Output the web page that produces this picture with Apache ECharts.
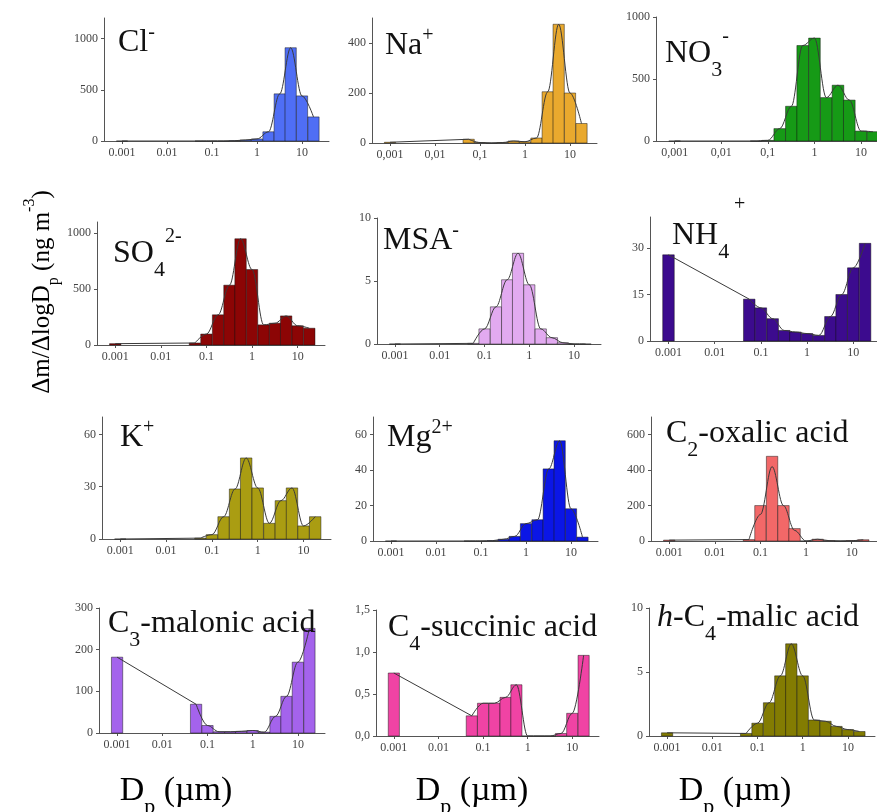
<!DOCTYPE html>
<html>
<head>
<meta charset="utf-8">
<script src="https://cdn.jsdelivr.net/npm/echarts@6/dist/echarts.min.js"></script>
<style>
  html, body { margin: 0; padding: 0; background: #fff; }
  #chart { width: 877px; height: 812px; }
</style>
</head>
<body>
<div id="chart"></div>
<script>
// stage diameters in um (first one = after-filter, drawn at 0.001)
var stageDp = [0.001, 0.056, 0.1, 0.18, 0.32, 0.56, 1.0, 1.8, 3.2, 5.6, 10, 18];
var binHalfWidth = 0.125; // half bar width, in decades

// dM/dlogDp per stage
var clValues  = [0, 0, 0, 0, 3, 10, 20, 90, 460, 910, 440, 235];
var naValues  = [3, 15, 2, 0, 2, 8, 5, 20, 205, 475, 200, 78];
var no3Values = [0, 0, 5, 100, 280, 770, 830, 350, 450, 330, 80, 75];
var so4Values = [12, 18, 98, 270, 535, 950, 675, 180, 195, 260, 172, 150];
var msaValues = [0, 0.05, 1.2, 2.95, 5.1, 7.2, 4.7, 1.2, 0.5, 0.1, 0, 0];
var nh4Values = [27.8, 13.5, 10.7, 7.2, 3.4, 2.9, 2.4, 1.8, 7.9, 15, 23.6, 31.5];
var kValues   = [0, 0.5, 2.5, 12.8, 28.7, 46.5, 29.3, 9, 22, 29.3, 7.5, 12.8];
var mgValues  = [0, 0, 0, 0.2, 1, 2.6, 9.8, 12, 40.7, 56.6, 18.2, 2.2];
var c2Values  = [5, 8, 200, 478, 200, 70, 0, 10, 2, 0, 2, 7];
var c2Fit     = [5, 8, 150, 420, 200, 60, 0, 10, 2, 0, 2, 7];
var c3Values  = [182, 69, 18, 3, 3, 4, 6, 2, 40, 88, 170, 251];
var c4Values  = [0.75, 0.24, 0.39, 0.39, 0.46, 0.61, 0, 0, 0, 0.03, 0.27, 0.96];
var hc4Values = [0.25, 0.2, 1.0, 2.6, 4.7, 7.2, 4.7, 1.25, 1.15, 0.75, 0.5, 0.35];

// tick values
var xTickDp = [0.001, 0.01, 0.1, 1, 10];
var xTickLabels = ['0.001', '0.01', '0.1', '1', '10'];
var ticks1000 = [0, 500, 1000];
var ticks400 = [0, 200, 400];
var ticks10 = [0, 5, 10];
var ticks30 = [0, 15, 30];
var ticks60 = [0, 30, 60];
var ticks60b = [0, 20, 40, 60];
var ticks600 = [0, 200, 400, 600];
var ticks300 = [0, 100, 200, 300];
var ticks15 = [0, 0.5, 1, 1.5];

var serif = '"Liberation Serif", "Times New Roman", serif';

var panels = [
    {title: '{b|Cl}{sup|-}', values: clValues, color: '#4f6ef5', yMax: 1200, yTicks: ticks1000,
        left: 104, top: 18, width: 225, height: 123, tx: 118, ty: 23},
    {title: '{b|Na}{sup|+}', values: naValues, color: '#e9a92e', yMax: 500, yTicks: ticks400, comma: true,
        left: 372, top: 18, width: 225, height: 125, tx: 385, ty: 26},
    {title: '{b|NO}{sub|3}{sup|-}', values: no3Values, color: '#169a16', yMax: 1000, yTicks: ticks1000, comma: true,
        left: 656, top: 17, width: 233, height: 124, tx: 665, ty: 27},
    {title: '{b|SO}{sub|4}{sup|2-}', values: so4Values, color: '#8c0505', yMax: 1100, yTicks: ticks1000,
        left: 97, top: 222, width: 228, height: 123, tx: 113, ty: 227},
    {title: '{b|MSA}{sup|-}', values: msaValues, color: '#e2aaf0', yMax: 10, yTicks: ticks10,
        left: 377, top: 218, width: 224, height: 126, tx: 383, ty: 221},
    {title: '{b|NH}{sub|4}', values: nh4Values, color: '#3c0b8e', yMax: 40, yTicks: ticks30,
        left: 650, top: 217, width: 231, height: 124, tx: 672, ty: 209, extraSup: {text: '+', x: 734, y: 195}},
    {title: '{b|K}{sup|+}', values: kValues, color: '#aa9d12', yMax: 70, yTicks: ticks60,
        left: 102, top: 417, width: 229, height: 122, tx: 120, ty: 418},
    {title: '{b|Mg}{sup|2+}', values: mgValues, color: '#0b16e6', yMax: 70, yTicks: ticks60b,
        left: 373, top: 417, width: 225, height: 124, tx: 387, ty: 418},
    {title: '{b|C}{sub|2}{b|-oxalic acid}', values: c2Values, fit: c2Fit, color: '#f26868', yMax: 700, yTicks: ticks600,
        left: 651, top: 417, width: 228, height: 124, tx: 666, ty: 407},
    {title: '{b|C}{sub|3}{b|-malonic acid}', values: c3Values, color: '#a463ec', yMax: 300, yTicks: ticks300,
        left: 99, top: 608, width: 226, height: 125, tx: 108, ty: 597},
    {title: '{b|C}{sub|4}{b|-succinic acid}', values: c4Values, color: '#f043a4', yMax: 1.5, yTicks: ticks15, yComma: true,
        left: 376, top: 610, width: 223, height: 126, tx: 388, ty: 601},
    {title: '{i|h}{b|-C}{sub|4}{b|-malic acid}', values: hc4Values, color: '#837c02', yMax: 10, yTicks: ticks10,
        left: 649, top: 608, width: 226, height: 128, tx: 657, ty: 591}
];

var titleRich = {
    b: {fontSize: 32, fontFamily: serif, fontWeight: 'normal', color: '#111', lineHeight: 40},
    i: {fontSize: 32, fontFamily: serif, fontWeight: 'normal', color: '#111', lineHeight: 40, fontStyle: 'italic'},
    sup: {fontSize: 20, fontFamily: serif, fontWeight: 'normal', color: '#111', verticalAlign: 'top'},
    sub: {fontSize: 22, fontFamily: serif, fontWeight: 'normal', color: '#111', verticalAlign: 'bottom', lineHeight: 54}
};

var xTicksLog = xTickDp.map(function(d) { return Math.log10(d); });

function barRender(color) {
    return function(params, api) {
        var p0 = api.coord([api.value(0), 0]);
        var p1 = api.coord([api.value(1), api.value(2)]);
        return {
            type: 'rect',
            shape: {x: p0[0], y: p1[1], width: p1[0] - p0[0], height: p0[1] - p1[1]},
            style: {fill: color, stroke: 'rgba(20,20,20,0.6)', lineWidth: 0.8}
        };
    };
}

var option = {
    animation: false,
    backgroundColor: '#fff',
    grid: [], xAxis: [], yAxis: [], series: [], title: [], graphic: []
};

var axisColor = '#555';

panels.forEach(function(p, i) {
    option.grid.push({
        left: p.left, top: p.top, width: p.width, height: p.height,
        containLabel: false, outerBoundsMode: 'none'
    });
    option.xAxis.push({
        type: 'value', gridIndex: i, min: -3.4, max: 1.6,
        axisLine: {onZero: true, lineStyle: {color: axisColor, width: 1}},
        axisTick: {show: true, length: 3, customValues: xTicksLog, lineStyle: {color: axisColor}},
        axisLabel: {
            customValues: xTicksLog, margin: 6, fontSize: 12, fontFamily: serif, color: '#444',
            formatter: function(v) {
                var s = xTickLabels[Math.round(v) + 3];
                return p.comma ? s.replace('.', ',') : s;
            }
        },
        splitLine: {show: false}
    });
    option.yAxis.push({
        type: 'value', gridIndex: i, min: 0, max: p.yMax,
        axisLine: {show: true, onZero: false, lineStyle: {color: axisColor, width: 1}},
        axisTick: {show: true, length: 3, customValues: p.yTicks, lineStyle: {color: axisColor}},
        axisLabel: {
            customValues: p.yTicks, margin: 6, fontSize: 12, fontFamily: serif, color: '#444',
            formatter: function(v) {
                if (p.yComma) return v.toFixed(1).replace('.', ',');
                return String(v);
            }
        },
        splitLine: {show: false}
    });

    var bars = p.values.map(function(v, k) {
        var c = Math.log10(stageDp[k]);
        return [c - binHalfWidth, c + binHalfWidth, v];
    });
    option.series.push({
        type: 'custom', xAxisIndex: i, yAxisIndex: i, z: 2,
        renderItem: barRender(p.color), data: bars
    });

    var fit = (p.fit || p.values).map(function(v, k) {
        return [Math.log10(stageDp[k]), v];
    });
    // straight link from the after-filter to the first stage, smooth curve afterwards
    option.series.push({
        type: 'line', xAxisIndex: i, yAxisIndex: i, z: 3, symbol: 'none',
        lineStyle: {color: '#3a3a3a', width: 1}, data: fit.slice(0, 2)
    });
    option.series.push({
        type: 'line', xAxisIndex: i, yAxisIndex: i, z: 3, symbol: 'none',
        smooth: 0.35, smoothMonotone: 'x',
        lineStyle: {color: '#3a3a3a', width: 1}, data: fit.slice(1)
    });

    option.title.push({
        text: p.title, left: p.tx, top: p.ty, padding: 0,
        textStyle: {fontWeight: 'normal', rich: titleRich}
    });
    if (p.extraSup) {
        option.graphic.push({
            type: 'text', x: p.extraSup.x, y: p.extraSup.y, z: 10,
            style: {text: p.extraSup.text, fontSize: 20, fontFamily: serif, fill: '#111'}
        });
    }
});

// axis names
var yNameRich = {
    b: {fontSize: 25, fontFamily: serif, color: '#111', lineHeight: 30},
    sub: {fontSize: 16, fontFamily: serif, color: '#111', verticalAlign: 'bottom', lineHeight: 40},
    sup: {fontSize: 16, fontFamily: serif, color: '#111', verticalAlign: 'top'}
};
var xNameRich = {
    b: {fontSize: 34, fontFamily: serif, color: '#111', lineHeight: 40},
    sub: {fontSize: 22, fontFamily: serif, color: '#111', verticalAlign: 'bottom', lineHeight: 54}
};
option.graphic.push({
    type: 'text', x: 42, y: 292, rotation: Math.PI / 2, z: 10,
    style: {
        text: '{b|\u0394m/\u0394logD}{sub|p}{b| (ng m}{sup|-3}{b|)}',
        rich: yNameRich, align: 'center', verticalAlign: 'middle'
    }
});
[176, 472, 735].forEach(function(cx) {
    option.graphic.push({
        type: 'text', x: cx, y: 791, z: 10,
        style: {
            text: '{b|D}{sub|p}{b| (\u00b5m)}',
            rich: xNameRich, align: 'center', verticalAlign: 'middle'
        }
    });
});

var chart = echarts.init(document.getElementById('chart'));
chart.setOption(option);
</script>
</body>
</html>
